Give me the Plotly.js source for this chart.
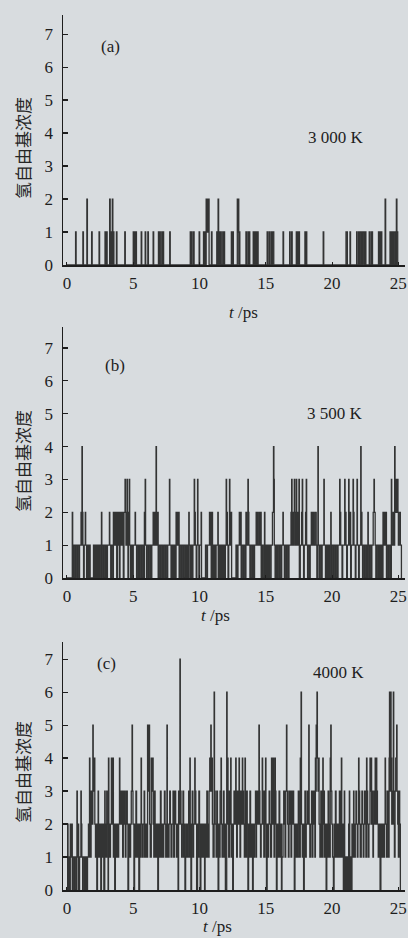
<!DOCTYPE html>
<html><head><meta charset="utf-8">
<script src="https://cdn.plot.ly/plotly-3.0.1.min.js"></script>
<style>html,body{margin:0;padding:0;background:#d8dcdf;}#chart{width:408px;height:938px;}</style>
</head><body><div id="chart"></div>
<script>
// Step series [time (ps), H radical count]
const stepsA = [[0,0],[0.65,1],[0.69,0],[1.2,1],[1.24,0],[1.5,2],[1.54,0],[1.86,1],[1.9,0],[2.42,1],[2.46,0],[2.87,1],[2.9,0],[2.93,1],[2.96,0],[3.0,1],[3.03,0],[3.22,2],[3.26,0],[3.3,1],[3.34,0],[3.42,2],[3.46,0],[3.5,1],[3.54,0],[3.73,1],[3.77,0],[4.36,1],[4.4,0],[5.0,1],[5.04,0],[5.1,1],[5.14,0],[5.2,1],[5.24,0],[5.6,1],[5.64,0],[5.9,1],[5.94,0],[6.1,1],[6.14,0],[6.5,1],[6.54,0],[6.9,1],[6.94,0],[7.0,1],[7.04,0],[7.15,1],[7.19,0],[7.25,1],[7.29,0],[7.75,1],[7.79,0],[9.3,1],[9.34,0],[9.4,1],[9.44,0],[9.55,1],[9.59,0],[9.97,1],[10.01,0],[10.3,1],[10.34,0],[10.4,1],[10.44,0],[10.5,2],[10.53,1],[10.56,2],[10.59,1],[10.62,2],[10.65,1],[10.68,2],[10.72,0],[10.9,1],[10.94,0],[11.3,1],[11.34,0],[11.4,2],[11.44,0],[11.5,1],[11.54,0],[11.6,1],[11.64,0],[11.75,1],[11.79,0],[11.85,1],[11.89,0],[12.4,1],[12.44,0],[12.5,1],[12.55,0],[12.85,2],[12.88,1],[12.92,2],[12.96,0],[13.0,1],[13.04,0],[13.5,1],[13.54,0],[13.65,1],[13.69,0],[13.75,1],[13.79,0],[14.05,1],[14.09,0],[14.15,1],[14.19,0],[14.25,1],[14.29,0],[14.35,1],[14.42,0],[15.1,1],[15.14,0],[15.25,1],[15.29,0],[15.4,1],[15.44,0],[15.5,1],[15.6,0],[16.3,1],[16.34,0],[16.8,1],[16.84,0],[16.95,1],[16.99,0],[17.3,1],[17.34,0],[17.4,1],[17.44,0],[17.5,1],[17.54,0],[17.95,1],[17.99,0],[18.05,1],[18.09,0],[19.33,1],[19.37,0],[21.05,1],[21.15,0],[21.35,1],[21.39,0],[21.85,1],[21.89,0],[22.0,1],[22.04,0],[22.1,1],[22.2,0],[22.25,1],[22.3,0],[22.35,1],[22.45,0],[22.5,1],[22.55,0],[22.8,1],[22.84,0],[22.95,1],[23.05,0],[23.5,1],[23.54,0],[23.6,1],[23.64,0],[23.7,1],[23.75,0],[24.0,2],[24.04,0],[24.37,1],[24.41,0],[24.5,1],[24.54,0],[24.6,1],[24.65,0],[24.75,1],[24.8,0],[24.85,2],[24.89,1],[24.95,0]];

const stepsB = [[0,0],[0.4,2],[0.43,0],[0.5,1],[0.6,0],[0.65,1],[0.75,0],[0.8,1],[0.9,0],[0.95,1],[1.06,2],[1.1,1],[1.13,4],[1.16,2],[1.2,1],[1.25,0],[1.3,1],[1.38,2],[1.41,1],[1.48,0],[1.53,1],[1.6,0],[1.65,1],[1.75,0],[2.0,1],[2.1,0],[2.15,1],[2.25,0],[2.3,1],[2.4,0],[2.45,1],[2.55,0],[2.6,2],[2.63,1],[2.7,0],[2.75,1],[2.85,0],[2.9,1],[3.0,0],[3.05,1],[3.2,2],[3.23,1],[3.3,0],[3.35,1],[3.45,0],[3.5,2],[3.53,1],[3.6,2],[3.65,1],[3.7,2],[3.75,0],[3.8,2],[3.85,1],[3.9,2],[3.95,0],[4.0,2],[4.05,1],[4.1,2],[4.15,1],[4.2,2],[4.25,0],[4.3,2],[4.38,3],[4.41,2],[4.45,1],[4.53,3],[4.56,2],[4.6,0],[4.65,2],[4.7,3],[4.73,1],[4.8,0],[4.85,1],[4.95,0],[5.0,1],[5.14,2],[5.17,1],[5.25,0],[5.3,1],[5.4,0],[5.5,1],[5.6,0],[5.65,1],[5.75,0],[5.84,2],[5.87,1],[5.9,3],[5.93,1],[6.0,0],[6.05,1],[6.15,0],[6.2,1],[6.3,0],[6.4,1],[6.5,2],[6.55,1],[6.6,2],[6.65,1],[6.72,4],[6.75,2],[6.8,1],[6.85,2],[6.88,0],[6.95,1],[7.05,0],[7.1,1],[7.2,0],[7.3,1],[7.4,0],[7.45,1],[7.55,0],[7.6,1],[7.73,3],[7.76,1],[7.85,0],[7.9,1],[8.0,0],[8.05,1],[8.15,0],[8.23,2],[8.26,1],[8.3,2],[8.35,1],[8.43,2],[8.46,0],[8.55,1],[8.65,0],[8.7,1],[8.8,0],[8.85,1],[8.95,0],[9.0,1],[9.1,0],[9.19,2],[9.22,1],[9.3,0],[9.35,1],[9.45,0],[9.5,1],[9.6,3],[9.63,2],[9.68,1],[9.75,0],[9.8,1],[9.85,3],[9.88,1],[9.95,0],[10.0,1],[10.12,2],[10.15,0],[10.45,1],[10.55,0],[10.6,1],[10.75,2],[10.78,1],[10.85,2],[10.88,0],[10.95,2],[10.98,1],[11.05,0],[11.1,1],[11.2,0],[11.25,1],[11.38,2],[11.41,0],[11.5,1],[11.6,0],[11.65,1],[11.75,0],[11.8,1],[11.9,0],[11.95,1],[12.01,3],[12.04,2],[12.1,1],[12.15,0],[12.2,1],[12.26,3],[12.29,2],[12.33,1],[12.39,2],[12.42,0],[12.75,1],[12.85,0],[12.9,1],[13.0,2],[13.04,1],[13.1,2],[13.14,0],[13.2,1],[13.3,0],[13.35,1],[13.45,0],[13.5,2],[13.55,1],[13.65,3],[13.68,2],[13.72,1],[13.8,0],[13.85,1],[13.95,0],[14.0,1],[14.1,0],[14.15,1],[14.27,2],[14.3,1],[14.35,2],[14.4,1],[14.5,2],[14.53,1],[14.6,2],[14.65,0],[14.7,1],[14.8,0],[14.9,2],[14.93,1],[15.0,0],[15.05,1],[15.15,0],[15.2,1],[15.3,0],[15.4,1],[15.5,2],[15.58,4],[15.61,3],[15.64,1],[15.7,0],[15.75,1],[15.85,0],[15.9,1],[16.0,0],[16.05,1],[16.15,0],[16.2,1],[16.29,2],[16.32,1],[16.4,0],[16.45,1],[16.55,0],[16.6,1],[16.7,0],[16.75,1],[16.9,2],[16.95,3],[16.98,1],[17.05,2],[17.1,1],[17.15,3],[17.18,2],[17.25,1],[17.3,3],[17.33,1],[17.4,2],[17.45,1],[17.5,3],[17.53,0],[17.6,1],[17.7,2],[17.75,3],[17.78,1],[17.85,0],[17.9,1],[18.0,2],[18.05,3],[18.08,1],[18.15,0],[18.2,1],[18.3,0],[18.35,1],[18.43,2],[18.46,1],[18.55,2],[18.6,1],[18.7,2],[18.8,1],[18.85,0],[18.93,4],[18.96,1],[19.05,0],[19.1,1],[19.2,0],[19.25,1],[19.38,3],[19.41,1],[19.5,0],[19.55,1],[19.65,0],[19.7,1],[19.8,0],[19.9,2],[19.93,0],[20.0,1],[20.1,0],[20.15,1],[20.25,0],[20.3,1],[20.4,0],[20.45,1],[20.57,3],[20.6,2],[20.65,1],[20.75,0],[20.8,1],[20.95,3],[20.98,2],[21.05,1],[21.1,0],[21.15,1],[21.25,3],[21.28,1],[21.35,2],[21.4,0],[21.45,1],[21.58,3],[21.61,2],[21.65,1],[21.75,0],[21.8,1],[21.88,3],[21.91,1],[22.0,0],[22.05,1],[22.16,4],[22.19,2],[22.25,1],[22.3,0],[22.35,1],[22.45,0],[22.5,1],[22.6,0],[22.7,2],[22.73,1],[22.8,0],[22.85,1],[22.95,0],[23.0,1],[23.1,2],[23.16,3],[23.19,2],[23.25,1],[23.3,0],[23.35,1],[23.45,0],[23.5,1],[23.6,0],[23.65,1],[23.75,0],[23.84,2],[23.9,1],[23.95,2],[24.0,1],[24.05,2],[24.1,0],[24.15,1],[24.25,0],[24.3,1],[24.4,0],[24.47,3],[24.5,1],[24.6,2],[24.65,1],[24.72,4],[24.75,2],[24.8,3],[24.85,2],[24.9,3],[24.97,2],[25.0,1],[25.05,2],[25.15,1],[25.23,0]];

const stepsC = [[0,0],[0.05,2],[0.08,0],[0.15,1],[0.2,0],[0.25,2],[0.28,1],[0.35,2],[0.4,0],[0.45,1],[0.55,0],[0.6,1],[0.7,0],[0.75,3],[0.78,1],[0.85,2],[0.88,0],[0.95,1],[1.05,3],[1.08,2],[1.12,1],[1.18,0],[1.2,1],[1.3,0],[1.33,1],[1.4,0],[1.43,1],[1.5,0],[1.55,1],[1.62,2],[1.66,1],[1.7,4],[1.73,2],[1.78,1],[1.82,3],[1.86,2],[1.95,5],[1.98,4],[2.02,3],[2.05,4],[2.1,2],[2.15,1],[2.2,2],[2.25,0],[2.3,2],[2.35,3],[2.38,1],[2.45,2],[2.5,1],[2.55,0],[2.6,2],[2.65,1],[2.7,2],[2.78,0],[2.85,3],[2.88,2],[2.95,1],[3.0,3],[3.03,2],[3.1,0],[3.13,4],[3.16,2],[3.22,1],[3.28,2],[3.35,4],[3.38,3],[3.42,2],[3.46,4],[3.5,1],[3.55,2],[3.6,0],[3.65,2],[3.7,1],[3.78,2],[3.85,1],[3.9,2],[3.96,4],[3.99,2],[4.05,3],[4.1,2],[4.15,3],[4.2,1],[4.25,3],[4.3,2],[4.35,3],[4.4,1],[4.45,2],[4.5,3],[4.55,2],[4.6,0],[4.65,2],[4.72,1],[4.8,2],[4.85,3],[4.91,5],[4.94,3],[4.98,2],[5.05,0],[5.1,2],[5.15,1],[5.2,3],[5.25,2],[5.3,1],[5.35,2],[5.42,0],[5.48,2],[5.55,1],[5.59,4],[5.62,2],[5.7,1],[5.75,2],[5.82,3],[5.86,1],[5.92,2],[6.0,1],[6.08,5],[6.11,4],[6.14,5],[6.17,3],[6.2,5],[6.23,2],[6.28,1],[6.36,4],[6.39,3],[6.46,4],[6.5,2],[6.55,1],[6.6,3],[6.65,2],[6.7,1],[6.78,2],[6.85,0],[6.9,2],[6.95,1],[7.0,2],[7.05,3],[7.1,1],[7.18,2],[7.25,1],[7.3,2],[7.35,3],[7.4,2],[7.45,1],[7.54,5],[7.57,2],[7.62,1],[7.7,2],[7.75,3],[7.8,2],[7.85,1],[7.92,2],[8.0,3],[8.05,1],[8.1,2],[8.15,3],[8.2,2],[8.25,1],[8.3,2],[8.38,0],[8.42,3],[8.47,2],[8.52,7],[8.55,3],[8.6,2],[8.65,1],[8.7,2],[8.75,3],[8.8,1],[8.85,2],[8.9,0],[8.95,1],[9.0,2],[9.05,1],[9.12,2],[9.18,3],[9.22,1],[9.27,4],[9.3,2],[9.35,0],[9.4,2],[9.45,3],[9.5,1],[9.55,2],[9.64,4],[9.67,3],[9.72,2],[9.78,0],[9.85,2],[9.9,1],[9.95,3],[10.0,2],[10.05,0],[10.1,1],[10.15,2],[10.22,1],[10.3,2],[10.38,0],[10.42,2],[10.5,1],[10.55,3],[10.6,2],[10.65,1],[10.72,3],[10.77,4],[10.8,3],[10.85,5],[10.88,3],[10.92,4],[10.97,2],[11.02,1],[11.1,6],[11.13,3],[11.18,2],[11.25,1],[11.3,3],[11.35,2],[11.4,0],[11.45,2],[11.5,1],[11.55,3],[11.62,4],[11.65,2],[11.7,1],[11.75,2],[11.8,3],[11.85,1],[11.9,2],[11.95,0],[12.05,6],[12.08,3],[12.12,4],[12.15,2],[12.2,1],[12.25,3],[12.3,2],[12.35,4],[12.38,1],[12.45,2],[12.5,0],[12.55,2],[12.6,3],[12.65,2],[12.73,4],[12.76,3],[12.8,1],[12.85,3],[12.9,2],[12.98,4],[13.01,2],[13.05,1],[13.1,3],[13.15,2],[13.23,4],[13.26,3],[13.32,2],[13.38,1],[13.43,4],[13.46,2],[13.5,1],[13.55,3],[13.6,2],[13.65,0],[13.7,2],[13.75,1],[13.8,3],[13.85,2],[13.9,1],[13.95,2],[14.0,0],[14.05,2],[14.1,1],[14.15,2],[14.22,3],[14.26,1],[14.3,2],[14.35,3],[14.4,2],[14.48,5],[14.51,3],[14.55,2],[14.6,1],[14.65,2],[14.73,4],[14.76,3],[14.8,2],[14.85,1],[14.9,3],[14.94,2],[14.98,4],[15.01,1],[15.05,0],[15.1,2],[15.15,1],[15.2,2],[15.25,3],[15.3,2],[15.35,1],[15.43,4],[15.46,3],[15.5,2],[15.55,4],[15.58,3],[15.62,1],[15.68,4],[15.72,3],[15.76,2],[15.8,0],[15.85,2],[15.9,1],[15.95,2],[16.0,3],[16.05,1],[16.1,2],[16.18,0],[16.22,1],[16.3,2],[16.35,3],[16.4,2],[16.45,1],[16.5,3],[16.56,5],[16.59,3],[16.64,2],[16.7,1],[16.75,3],[16.8,2],[16.85,3],[16.9,1],[16.95,3],[17.0,2],[17.05,3],[17.1,2],[17.15,0],[17.2,2],[17.25,1],[17.3,2],[17.38,1],[17.45,3],[17.5,2],[17.55,1],[17.6,4],[17.63,3],[17.66,6],[17.69,2],[17.75,1],[17.8,2],[17.85,0],[17.9,2],[17.95,3],[18.0,1],[18.05,2],[18.12,3],[18.16,2],[18.24,5],[18.27,2],[18.32,1],[18.38,2],[18.45,3],[18.5,1],[18.55,2],[18.6,3],[18.65,2],[18.7,1],[18.74,4],[18.77,3],[18.8,5],[18.83,4],[18.86,6],[18.89,4],[18.94,3],[18.99,4],[19.02,2],[19.08,1],[19.15,3],[19.2,2],[19.25,1],[19.3,4],[19.33,2],[19.38,3],[19.42,1],[19.5,2],[19.55,0],[19.6,2],[19.65,1],[19.7,3],[19.75,2],[19.8,1],[19.86,4],[19.9,5],[19.93,3],[19.98,2],[20.03,1],[20.1,0],[20.15,2],[20.2,1],[20.25,3],[20.3,2],[20.35,1],[20.42,2],[20.5,1],[20.55,3],[20.6,1],[20.66,2],[20.7,4],[20.73,1],[20.8,2],[20.85,0],[20.92,3],[20.95,1],[21.0,0],[21.05,1],[21.1,0],[21.15,1],[21.2,0],[21.25,2],[21.3,3],[21.33,0],[21.38,1],[21.45,0],[21.5,2],[21.55,1],[21.62,3],[21.65,2],[21.7,1],[21.75,2],[21.8,3],[21.85,2],[21.9,1],[21.95,2],[22.0,4],[22.03,3],[22.08,2],[22.12,1],[22.2,2],[22.25,3],[22.3,2],[22.35,1],[22.4,2],[22.45,3],[22.5,2],[22.55,1],[22.6,4],[22.63,3],[22.68,2],[22.72,1],[22.78,2],[22.86,4],[22.89,3],[22.95,4],[22.98,2],[23.03,3],[23.08,1],[23.12,2],[23.18,3],[23.25,4],[23.28,2],[23.34,4],[23.37,3],[23.42,2],[23.48,1],[23.55,2],[23.62,0],[23.68,2],[23.75,1],[23.8,2],[23.88,1],[23.95,2],[24.0,4],[24.03,2],[24.1,1],[24.15,3],[24.2,2],[24.25,1],[24.3,4],[24.33,6],[24.36,3],[24.42,6],[24.45,4],[24.5,2],[24.55,3],[24.62,6],[24.65,2],[24.7,1],[24.75,3],[24.8,4],[24.87,5],[24.9,3],[24.95,2],[25.0,1],[25.05,3],[25.1,2],[25.15,0]];

const panelLabels = ['(a)', '(b)', '(c)'];
const tempLabels = ['3 000 K', '3 500 K', '4000 K'];
const xTicks = [0, 5, 10, 15, 20, 25];
const yTicks = [0, 1, 2, 3, 4, 5, 6, 7];
const yAxisTitle = '氢自由基浓度';
const xAxisTitle = '<i>t</i> /ps';

const serif = '"Liberation Serif", "Times New Roman", serif';
const ink = '#1e1e1e';

function trace(steps, ax) {
  return {
    x: steps.map(p => p[0]), y: steps.map(p => p[1]),
    xaxis: 'x' + ax, yaxis: 'y' + ax, type: 'scatter', mode: 'lines',
    line: {shape: 'hv', color: 'rgba(22,22,22,0.85)', width: 1.3, simplify: false},
    hoverinfo: 'skip', showlegend: false
  };
}
const data = [trace(stepsA, ''), trace(stepsB, '2'), trace(stepsC, '3')];

function xa(anchor) {
  return {domain: [0, 1], range: [-0.3, 25.5], anchor: anchor, showline: true, linecolor: ink, linewidth: 1.5,
    ticks: 'inside', ticklen: 3, tickwidth: 1, tickcolor: ink, tickvals: xTicks,
    showgrid: false, zeroline: false, ticklabelstandoff: 2,
    tickfont: {family: serif, size: 17, color: ink}};
}
function ya(anchor, dom, top) {
  return {domain: dom, range: [0, top], anchor: anchor, showline: true, linecolor: ink, linewidth: 1.5,
    ticks: 'inside', ticklen: 5, tickwidth: 1.2, tickcolor: ink, tickvals: yTicks,
    showgrid: false, zeroline: false, ticklabelstandoff: 5,
    tickfont: {family: serif, size: 17, color: ink}};
}

const PH = 875; // paper height px (plot area)
function py(px) { return (890 - px) / PH; }

const ann = [];
const labelPos = [[3.3, 6.64, 'x', 'y'], [3.6, 6.48, 'x2', 'y2'], [3.0, 6.88, 'x3', 'y3']];
const tempPos = [[20.3, 3.88, 'x', 'y'], [20.2, 5.02, 'x2', 'y2'], [20.5, 6.6, 'x3', 'y3']];
for (let i = 0; i < 3; i++) {
  ann.push({x: labelPos[i][0], y: labelPos[i][1], xref: labelPos[i][2], yref: labelPos[i][3], text: panelLabels[i],
    showarrow: false, font: {family: serif, size: 17, color: ink}});
  ann.push({x: tempPos[i][0], y: tempPos[i][1], xref: tempPos[i][2], yref: tempPos[i][3], text: tempLabels[i],
    showarrow: false, font: {family: serif, size: 17, color: ink}});
}
const xTitleY = [313, 615, 926];
const xTitleX = [243, 215, 217];
const yTitleY = [148, 461, 772];
for (let i = 0; i < 3; i++) {
  ann.push({x: (xTitleX[i] - 63) / 342, y: py(xTitleY[i]), xref: 'paper', yref: 'paper', text: xAxisTitle,
    showarrow: false, font: {family: serif, size: 17, color: ink}, yanchor: 'middle'});
  ann.push({x: (22 - 63) / 342, y: py(yTitleY[i]), xref: 'paper', yref: 'paper', text: yAxisTitle, textangle: -90,
    showarrow: false, font: {family: '"Noto Sans CJK SC", sans-serif', size: 17, color: '#262626'}, yanchor: 'middle', xanchor: 'center'});
}

const layout = {
  width: 408, height: 938,
  margin: {l: 63, r: 3, t: 15, b: 48},
  paper_bgcolor: '#d8dcdf', plot_bgcolor: 'rgba(0,0,0,0)',
  xaxis: xa('y'), yaxis: ya('x', [py(265), 1], 7.58),
  xaxis2: xa('y2'), yaxis2: ya('x2', [py(578), py(327)], 7.64),
  xaxis3: xa('y3'), yaxis3: ya('x3', [0, py(642)], 7.52),
  annotations: ann
};
Plotly.newPlot('chart', data, layout, {staticPlot: true, displayModeBar: false});
</script></body></html>
